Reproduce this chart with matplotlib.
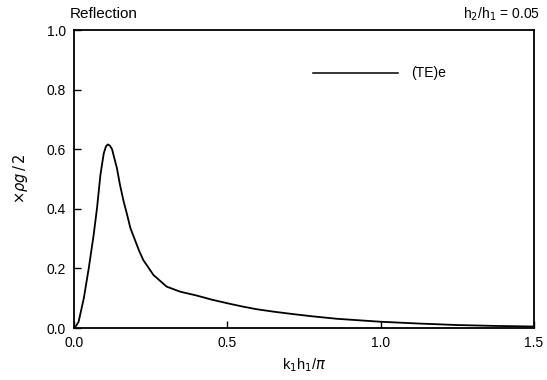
import numpy as np
import matplotlib.pyplot as plt

plt.rcParams["font.family"] = ["Liberation Sans", "DejaVu Sans"]

# reflection curve
kh = [0.0, 0.006, 0.015, 0.032, 0.048, 0.064, 0.075, 0.086, 0.097, 0.104,
      0.110, 0.117, 0.124, 0.140, 0.150, 0.162, 0.172, 0.184, 0.199, 0.212,
      0.226, 0.259, 0.302, 0.346, 0.400, 0.450, 0.509, 0.550, 0.596, 0.650,
      0.704, 0.770, 0.857, 1.000, 1.125, 1.250, 1.375, 1.500]
refl = [0.0, 0.006, 0.021, 0.100, 0.200, 0.312, 0.402, 0.513, 0.586, 0.609,
        0.616, 0.612, 0.600, 0.536, 0.480, 0.424, 0.385, 0.335, 0.295, 0.260,
        0.228, 0.178, 0.139, 0.122, 0.109, 0.095, 0.081, 0.072, 0.063, 0.055,
        0.048, 0.040, 0.031, 0.021, 0.015, 0.010, 0.007, 0.005]

legend_x = [0.78, 1.056]
legend_y = [0.856, 0.856]

fig = plt.figure(figsize=(5.47, 3.80), dpi=100)
ax = fig.add_axes([0.1353, 0.1368, 0.8409, 0.7842])

ax.plot(kh, refl, color="black", lw=1.3, solid_joinstyle="round")
ax.plot(legend_x, legend_y, color="black", lw=1.1)
ax.text(1.1, 0.856, "(TE)e", fontsize=10, va="center", ha="left")

ax.set_xlim(0, 1.5)
ax.set_ylim(0, 1.0)
ax.set_xticks([0.0, 0.5, 1.0, 1.5])
ax.set_yticks([0.0, 0.2, 0.4, 0.6, 0.8, 1.0])
ax.xaxis.set_major_formatter(plt.FormatStrFormatter("%.1f"))
ax.yaxis.set_major_formatter(plt.FormatStrFormatter("%.1f"))
ax.tick_params(direction="in", length=5, width=1, labelsize=10, pad=6)
for s in ax.spines.values():
    s.set_linewidth(1.3)

ax.set_xlabel(r"k$_1$h$_1$/$\pi$", fontsize=10.5, labelpad=4)
ax.set_ylabel(r"$\times\rho g\,/\,2$", fontsize=10.5, labelpad=12)

fig.text(0.128, 0.962, "Reflection", fontsize=11, ha="left", va="center")
fig.text(0.988, 0.962, r"h$_2$/h$_1$ = 0.05", fontsize=10, ha="right", va="center")

fig.savefig("out.png", dpi=100)
